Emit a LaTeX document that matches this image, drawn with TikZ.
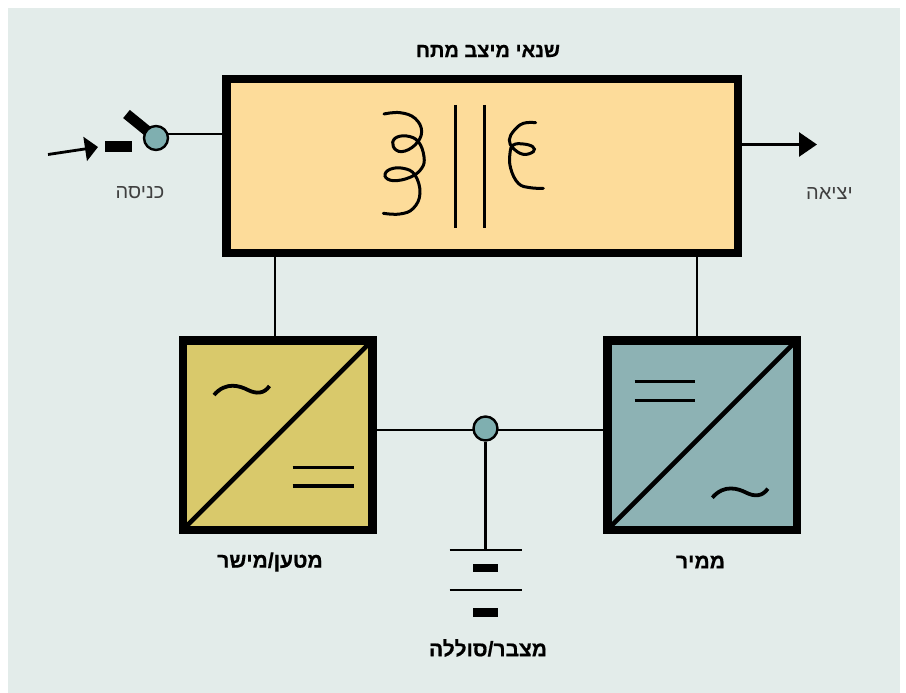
\documentclass[tikz,border=0pt]{standalone}
\usepackage{fontspec}
\setmainfont[Script=Hebrew,BoldFeatures={FakeBold=0.6}]{Liberation Sans}
\TeXXeTstate=1
\usetikzlibrary{arrows.meta}
\definecolor{panelbg}{HTML}{E3ECEA}
\definecolor{mainfill}{HTML}{FDDC9A}
\definecolor{chargerfill}{HTML}{D9C96B}
\definecolor{inverterfill}{HTML}{8DB2B4}
\definecolor{pinfill}{HTML}{7FAFB0}
\tikzset{
		wire/.style={line width=2.8pt},
		mainbox/.style={draw,line width=8.5pt,fill=mainfill,minimum width=511.5pt,minimum height=173.5pt,inner sep=0pt},
		convbox/.style={draw,line width=8.5pt,minimum size=189.5pt,inner sep=0pt,outer sep=0pt},
		pin/.style={circle,draw,line width=2.4pt,fill=pinfill,minimum size=24pt,inner sep=0pt},
		block/.style={fill=black,inner sep=0pt,minimum width=25pt,minimum height=8.5pt},
		symline/.style={line width=3.8pt},
		diagline/.style={line width=4.6pt},
		coilline/.style={line width=3pt,line cap=round},
		boldlabel/.style={font=\fontsize{21}{24}\selectfont\bfseries,inner sep=0pt},
		thinlabel/.style={font=\fontsize{20}{24}\selectfont,text=black!75,inner sep=0pt},
		tilde/.pic={
			\draw[symline] (0,0) .. controls (12,-14) and (26,-9) .. (34,-5) .. controls (42,-1) and (50,-1) .. (55.5,-9);
		}
	}
\begin{document}
\begin{tikzpicture}[x=1pt,y=-1pt]
		\useasboundingbox (0,0) rectangle (906,693);
		\fill[panelbg] (8,8) rectangle (900,693);

		% blocks
		\node[mainbox] (main) at (482,166) {};
		\node[convbox,fill=chargerfill] (charger) at (277.5,435) {};
		\node[convbox,fill=inverterfill] (inverter) at (702,435) {};

		% connectors
		\draw[wire] ([xshift=-2.5pt]charger.north) -- ([xshift=-2.5pt]charger.north |- main.south);
		\draw[wire] ([xshift=-5pt]inverter.north) -- ([xshift=-5pt]inverter.north |- main.south);
		\draw[wire] ([yshift=5pt]charger.east) -- ([yshift=5pt]inverter.west);
		\node[pin] (bus) at (485.5,428.5) {};

		% battery
		\coordinate (plateA) at (485.5,550);
		\coordinate (plateB) at (485.5,590);
		\draw[wire] (bus) -- (plateA);
		\draw[wire] ([xshift=-36pt]plateA) -- ([xshift=36pt]plateA);
		\draw[wire] ([xshift=-36pt]plateB) -- ([xshift=36pt]plateB);
		\node[block] (cellA) at (485.5,568) {};
		\node[block] (cellB) at (485.5,612.5) {};

		% switch
		\coordinate (leverend) at (126.5,114);
		\coordinate (inwire) at (156,134);
		\coordinate (instart) at (48,154.5);
		\coordinate (intip) at (98,147);
		\draw[line width=10.5pt] (leverend) -- (156,138);
		\draw[wire] (inwire) -- (inwire -| main.west);
		\node[pin] (switchpin) at (156,138) {};
		\node[block,minimum width=27pt,minimum height=11pt] (contact) at (118.5,146.5) {};
		\draw[wire,-{Triangle[length=13pt,width=24pt]}] (instart) -- (intip);

		% output
		\coordinate (outtip) at (817,144.5);
		\draw[wire,-{Triangle[length=18pt,width=24pt]}] (outtip -| main.east) -- (outtip);

		% transformer
		\draw[wire] (455.3,105) -- (455.3,228);
		\draw[wire] (484.3,105) -- (484.3,228);
		\begin{scope}[shift={(360,90)},x=0.3333pt,y=-0.3333pt]
			\draw[coilline] plot[smooth,tension=0.7] coordinates {(72,72) (120,68) (165,85) (185,125) (165,165) (125,185) (100,170) (105,145) (140,138) (175,155) (192,200) (185,235) (150,262) (100,272) (75,258) (90,238) (130,235) (165,255) (180,310) (160,355) (120,372) (70,370)};
			\draw[coilline] plot[smooth,tension=0.7] coordinates {(527,98) (490,100) (462,122) (448,150) (460,175) (490,193) (520,185) (518,170) (490,162) (460,165) (450,190) (452,235) (475,280) (510,293) (550,295)};
		\end{scope}

		% charger symbols
		\draw[diagline] (charger.south west) -- (charger.north east);
		\draw[symline] (292.5,467.5) -- (353.5,467.5);
		\draw[symline] (292.5,486) -- (353.5,486);
		\pic at (214,395) {tilde};

		% inverter symbols
		\draw[diagline] (inverter.south west) -- (inverter.north east);
		\draw[symline] (634.5,381.5) -- (695,381.5);
		\draw[symline] (634.5,400.5) -- (695,400.5);
		\pic at (712.3,497.7) {tilde};

		% labels
		\node[boldlabel,font=\fontsize{20}{24}\selectfont\bfseries] (maintext) at (488,51) {\beginR שנאי מיצב מתח\endR};
		\node[thinlabel] (intext) at (140,193) {\beginR כניסה\endR};
		\node[thinlabel] (outtext) at (829.5,194) {\beginR יציאה\endR};
		\node[boldlabel] (chargertext) at (270,562) {\beginR מטען/מישר\endR};
		\node[boldlabel] (invertertext) at (700.5,562) {\beginR ממיר\endR};
		\node[boldlabel] (batterytext) at (488,648) {\beginR מצבר/סוללה\endR};
	\end{tikzpicture}
\end{document}
